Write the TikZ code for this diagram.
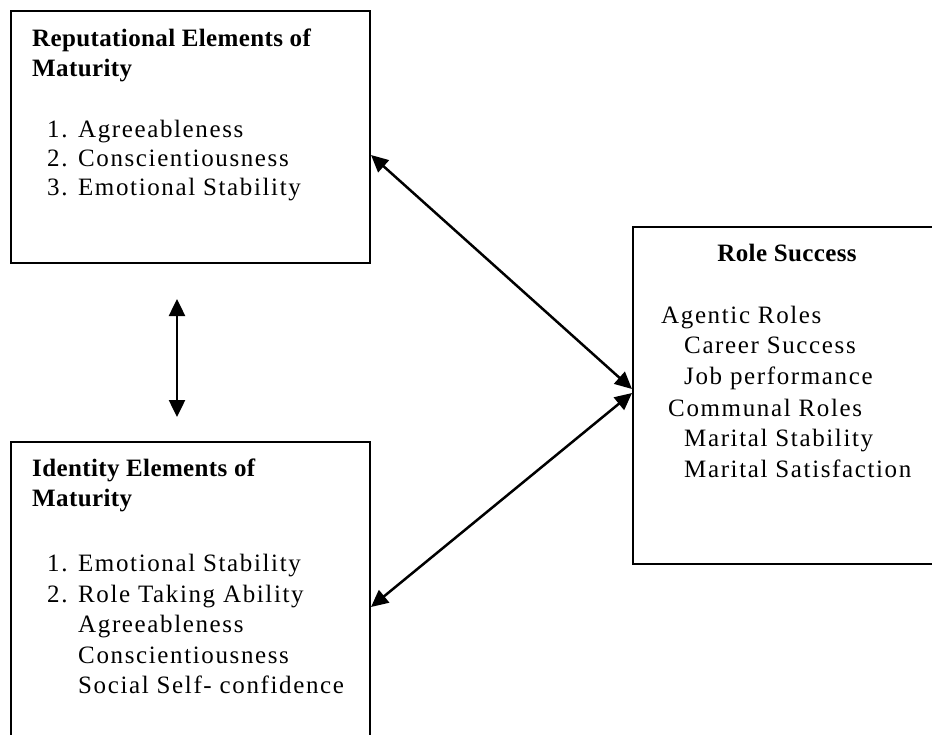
\documentclass[tikz,border=0pt]{standalone}
\usepackage{fontspec}
\setmainfont{Liberation Serif}[LetterSpace=6.5,BoldFeatures={LetterSpace=1.5}]
\usetikzlibrary{arrows.meta}
\begin{document}
\begin{tikzpicture}[x=1pt,y=-1pt,
  box/.style={draw,line width=2pt,rectangle,anchor=north west,inner sep=0pt},
  txt/.style={anchor=base west,inner sep=0pt,font=\fontsize{25}{30}\selectfont},
  head/.style={txt,font=\fontsize{25}{30}\selectfont\bfseries},
  link/.style={line width=2.5pt,{Triangle[length=17pt,width=16pt]}-{Triangle[length=17pt,width=16pt]}}]
\clip (0,0) rectangle (932,734);
\fill[white] (0,0) rectangle (932,734);

% the three boxes
\node[box,minimum width=359pt,minimum height=252pt] (rep) at (10,10) {};
\node[box,minimum width=359pt,minimum height=310pt] (ident) at (10,441) {};
\node[box,minimum width=320pt,minimum height=337pt] (role) at (632,226) {};

% reputational elements
\node[head] (repA) at (32,46) {Reputational Elements of};
\node[head] (repB) at (32,76) {Maturity};
\node[txt] (rep1) at (47,137) {1. Agreeableness};
\node[txt] (rep2) at (47,166) {2. Conscientiousness};
\node[txt] (rep3) at (47,195) {3. Emotional Stability};

% identity elements
\node[head] (idA) at (32,476) {Identity Elements of};
\node[head] (idB) at (32,506) {Maturity};
\node[txt] (id1) at (47,571) {1. Emotional Stability};
\node[txt] (id2) at (47,602) {2. Role Taking Ability};
\node[txt] (id3) at (78,632) {Agreeableness};
\node[txt] (id4) at (78,663) {Conscientiousness};
\node[txt] (id5) at (78,693) {Social Self- confidence};

% role success
\node[head,anchor=base] (roleT) at (787,261) {Role Success};
\node[txt] (r1) at (661,323) {Agentic Roles};
\node[txt] (r2) at (684,353) {Career Success};
\node[txt] (r3) at (684,384) {Job performance};
\node[txt] (r4) at (668,416) {Communal Roles};
\node[txt] (r5) at (684,446) {Marital Stability};
\node[txt] (r6) at (684,477) {Marital Satisfaction};

% two-way links
\draw[link] ([yshift=-145pt]rep.north east) -- ([yshift=-163pt]role.north west);
\draw[link] ([yshift=-166pt]ident.north east) -- ([yshift=-167pt]role.north west);
\draw[link] ([xshift=167pt,yshift=-35pt]rep.south west) -- ([xshift=167pt,yshift=24pt]ident.north west);
\end{tikzpicture}
\end{document}
